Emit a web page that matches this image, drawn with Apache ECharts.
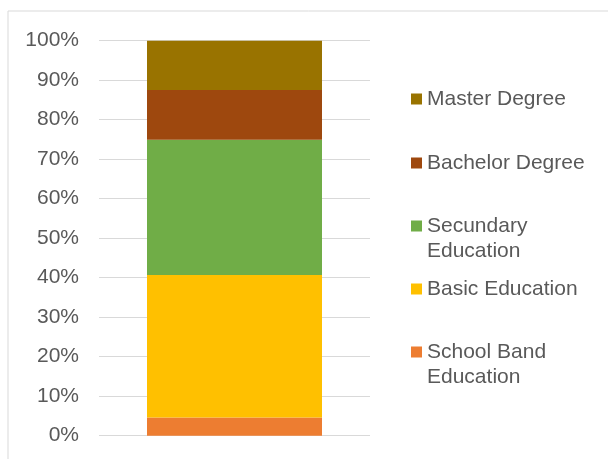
<!DOCTYPE html>
<html><head><meta charset="utf-8">
<script src="https://cdn.jsdelivr.net/npm/echarts@6/dist/echarts.min.js"></script>
<style>html,body{margin:0;padding:0;background:#fff}#c{width:608px;height:459px}</style>
</head><body><div id="c"></div>
<script>
const categories = [''];
const seriesNames = ['School Band Education', 'Basic Education', 'Secundary Education', 'Bachelor Degree', 'Master Degree'];
const schoolBand = [4.6];
const basic = [36.1];
const secundary = [34.2];
const bachelor = [12.6];
const master = [12.5];
const yTicks = [0, 10, 20, 30, 40, 50, 60, 70, 80, 90, 100];

const colors = ['#ED7D31', '#FFC000', '#70AD47', '#9E480E', '#997300'];
const values = [schoolBand, basic, secundary, bachelor, master];
const font = 'Liberation Sans, Arial, sans-serif';
const txt = '#595959';

const chart = echarts.init(document.getElementById('c'), null, {renderer: 'canvas'});

function legendAt(name, top, label) {
  return {
    data: [name], left: 411, top: top, padding: 0, itemWidth: 11, itemHeight: 11,
    icon: 'rect', selectedMode: false,
    formatter: () => label,
    textStyle: {color: txt, fontSize: 21, fontFamily: font, lineHeight: 25}
  };
}

chart.setOption({
  animation: false,
  backgroundColor: '#fff',
  graphic: [{type: 'rect', shape: {x: 8, y: 11, width: 700, height: 500}, style: {fill: 'none', stroke: '#D9D9D9', lineWidth: 1}, silent: true}],
  grid: {left: 99, right: 238, top: 40.7, bottom: 23.3},
  xAxis: {type: 'category', data: categories, axisLine: {show: false}, axisTick: {show: false}, axisLabel: {show: false}},
  yAxis: {
    type: 'value', min: yTicks[0], max: yTicks[yTicks.length - 1], interval: 10,
    axisLine: {show: false}, axisTick: {show: false},
    axisLabel: {formatter: '{value}%', color: txt, fontSize: 21, fontFamily: font, margin: 20},
    splitLine: {lineStyle: {color: '#D9D9D9', width: 1}}
  },
  legend: [
    legendAt('Master Degree', 86.5, 'Master Degree'),
    legendAt('Bachelor Degree', 150.5, 'Bachelor Degree'),
    legendAt('Secundary Education', 188.5, '\nSecundary\nEducation'),
    legendAt('Basic Education', 276.5, 'Basic Education'),
    legendAt('School Band Education', 314.5, '\nSchool Band\nEducation')
  ],
  series: seriesNames.map((n, i) => ({
    name: n, type: 'bar', stack: 'total', data: values[i], barWidth: 175,
    itemStyle: {color: colors[i]}
  }))
});
</script></body></html>
